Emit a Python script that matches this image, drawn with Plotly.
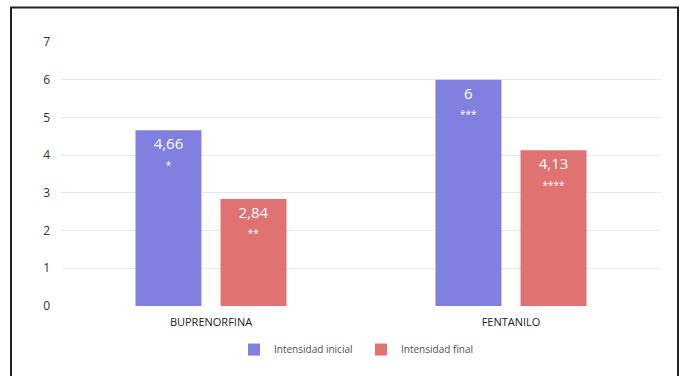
import plotly.graph_objects as go

categories = ["BUPRENORFINA", "FENTANILO"]
inicial = [4.66, 6]
final = [2.84, 4.13]
inicial_values = ["4,66", "6"]
inicial_marks = ["*", "***"]
final_values = ["2,84", "4,13"]
final_marks = ["**", "****"]
y_ticks = [0, 1, 2, 3, 4, 5, 6, 7]


def labels(vals, marks):
    return [f"{v}<br><span style='font-size:10px'>{m}</span>" for v, m in zip(vals, marks)]


fig = go.Figure()
fig.add_trace(go.Bar(
    x=categories, y=inicial, name="Intensidad inicial",
    marker=dict(color="#8080e0", line=dict(width=0)),
    text=labels(inicial_values, inicial_marks), textposition="inside", insidetextanchor="end",
    textfont=dict(color="white", size=15, family="Open Sans"),
    textangle=0,
))
fig.add_trace(go.Bar(
    x=categories, y=final, name="Intensidad final",
    marker=dict(color="#e07272", line=dict(width=0)),
    text=labels(final_values, final_marks), textposition="inside", insidetextanchor="end",
    textfont=dict(color="white", size=15, family="Open Sans"),
    textangle=0,
))

fig.update_layout(
    width=681, height=376,
    margin=dict(l=61, r=20, t=42, b=67),
    paper_bgcolor="white", plot_bgcolor="white",
    barmode="group", bargap=0.433, bargroupgap=0.224,
    font=dict(family="Open Sans", color="#404040"),
    xaxis=dict(
        showgrid=False, showline=False, zeroline=False,
        tickfont=dict(size=11, color="#202020"),
        range=[-0.5, 1.5],
        ticklabelstandoff=8,
    ),
    yaxis=dict(
        range=[0, 7], tickvals=y_ticks,
        showgrid=True, gridcolor="#e8e8e8", gridwidth=1,
        zeroline=False,
        showline=False,
        tickfont=dict(size=12, color="#303030"),
        ticklabelstandoff=10,
    ),
    legend=dict(
        orientation="h", x=0.5, xanchor="center", y=-0.165, yanchor="middle",
        font=dict(size=10, color="#505050"),
        itemwidth=30, entrywidth=82, entrywidthmode="pixels",
    ),
    shapes=[dict(
        type="rect", xref="paper", yref="paper",
        x0=(11 - 61) / 600, x1=(678 - 61) / 600,
        y0=(309 - 385) / 267, y1=(309 - 7) / 267,
        line=dict(color="#222222", width=2), layer="below",
    )],
)

fig.write_html("out.html")
